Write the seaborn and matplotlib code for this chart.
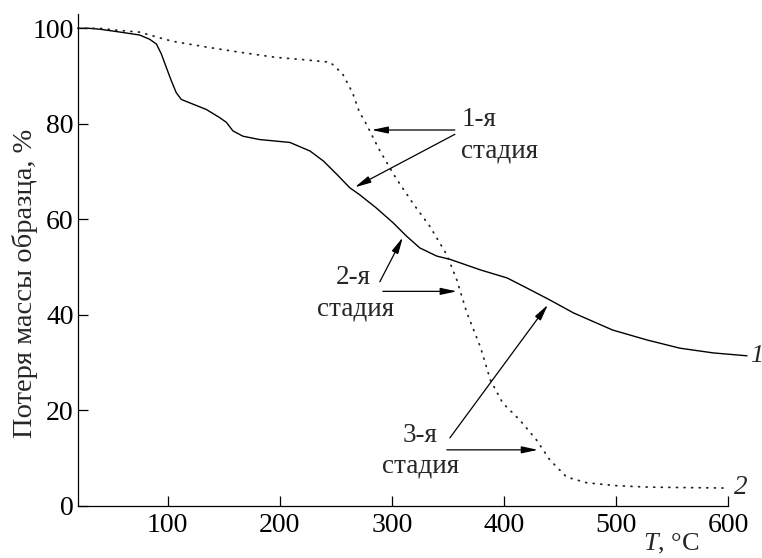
import matplotlib
matplotlib.use("Agg")
import matplotlib.pyplot as plt
import seaborn as sns

# ---- data ----
t1 = [20, 30, 40, 55, 75, 84, 90, 94.4, 98.8, 103.3, 107.7, 112.2, 119.6, 134.5,
      146.4, 152.4, 158.3, 167.2, 182, 200, 209, 227, 239, 251, 262.5, 271, 286,
      301, 313, 325, 340, 352, 379, 403, 423, 441, 462, 497, 528, 557, 587, 617]
m1 = [100, 100, 99.8, 99.3, 98.6, 97.7, 96.7, 94.6, 91.8, 89.0, 86.5, 85.1, 84.4,
      83.0, 81.3, 80.3, 78.5, 77.4, 76.7, 76.3, 76.1, 74.3, 72.2, 69.4, 66.6, 65.2,
      62.4, 59.3, 56.5, 54.0, 52.3, 51.6, 49.4, 47.7, 45.3, 43.1, 40.4, 36.8, 34.7,
      33.0, 32.0, 31.4]

t2 = [20, 39, 55, 75, 87, 104, 134, 164, 197, 218, 245, 256, 265, 271, 276, 289,
      304, 319, 334, 349, 358, 367, 379, 388, 399, 414, 429, 441, 456, 474, 500,
      528, 560, 597]
m2 = [100, 100, 99.6, 99.2, 98.4, 97.3, 96.1, 95.0, 93.9, 93.5, 92.9, 90.5, 86.5,
      82.5, 80.5, 74.5, 68.5, 63.3, 58.5, 52.6, 47.3, 40.4, 33.3, 26.3, 21.5, 18.0,
      13.8, 9.6, 6.0, 4.8, 4.2, 3.9, 3.8, 3.7]

x_ticks = [100, 200, 300, 400, 500, 600]
y_ticks = [0, 20, 40, 60, 80, 100]

curve_labels = ["1", "2"]
stage_top = ["1-я", "2-я", "3-я"]
stage_bottom = "стадия"
y_label = "Потеря массы образца, %"
x_label = r"$T$, °C"

# ---- style ----
sns.set_style("ticks")
plt.rcParams["font.family"] = ["Liberation Serif", "DejaVu Serif"]
plt.rcParams["mathtext.fontset"] = "custom"
plt.rcParams["mathtext.rm"] = "Liberation Serif"
plt.rcParams["mathtext.it"] = "Liberation Serif:italic"

W, H = 762, 558
fig = plt.figure(figsize=(W / 100, H / 100), dpi=100)
ax = fig.add_axes([78 / W, 1 - 505.7 / H, 650 / W, (505.7 - 14) / H])

sns.lineplot(x=t1, y=m1, ax=ax, color="black", linewidth=1.0, estimator=None,
             clip_on=False, legend=False)
sns.lineplot(x=t2, y=m2, ax=ax, color="#222222", linewidth=1.3, estimator=None,
             linestyle=(0, (0.5, 3.7)), dash_capstyle="round", clip_on=False,
             legend=False)

ax.set_xlim(20, 600)
ax.set_ylim(0, 103)
ax.set_xticks(x_ticks)
ax.set_yticks(y_ticks)
ax.set_xlabel("")
ax.set_ylabel("")
for s in ["top", "right"]:
    ax.spines[s].set_visible(False)
for s in ["left", "bottom"]:
    ax.spines[s].set_linewidth(0.9)
    ax.spines[s].set_color("black")
ax.tick_params(axis="both", direction="in", length=7.5, width=0.9, colors="black",
               labelsize=20)
ax.tick_params(axis="x", pad=5)
ax.tick_params(axis="y", pad=3)

# curve labels
ax.text(619.5, 31.4, curve_labels[0], fontsize=19, style="italic", ha="left",
        va="center", clip_on=False)
ax.text(605, 3.9, curve_labels[1], fontsize=19.5, style="italic", ha="left",
        va="center", clip_on=False)

# stage annotations
fs = 19.5
arrow = dict(arrowstyle="-|>,head_length=0.7,head_width=0.15", color="black",
             lw=0.9, shrinkA=0, shrinkB=0, mutation_scale=14)

def arr(tail, head):
    ax.annotate("", xy=head, xytext=tail, arrowprops=arrow, annotation_clip=False)

# stage 1
ax.text(362.5, 80.9, stage_top[0], fontsize=fs, ha="left", va="center")
ax.text(362.0, 74.3, stage_bottom, fontsize=fs, ha="left", va="center")
arr((356.3, 78.7), (282.1, 78.7))
arr((356.3, 77.8), (267.0, 66.7))
# stage 2
ax.text(265.2, 47.8, stage_top[1], fontsize=fs, ha="center", va="center")
ax.text(267.9, 41.3, stage_bottom, fontsize=fs, ha="center", va="center")
arr((289.3, 46.9), (309.8, 56.2))
arr((292.0, 44.9), (358.0, 44.9))
# stage 3
ax.text(325.0, 14.8, stage_top[2], fontsize=fs, ha="center", va="center")
ax.text(326.0, 8.3, stage_bottom, fontsize=fs, ha="center", va="center")
arr((351.8, 14.2), (439.3, 42.1))
arr((349.1, 11.7), (430.4, 11.7))

# axis titles
fig.text(25 / W, 1 - 283 / H, y_label, fontsize=20.5, rotation=90, ha="center",
         va="center")
fig.text(671 / W, 1 - 544 / H, x_label, fontsize=19, ha="center", va="center")

fig.savefig("out.png", dpi=100)
